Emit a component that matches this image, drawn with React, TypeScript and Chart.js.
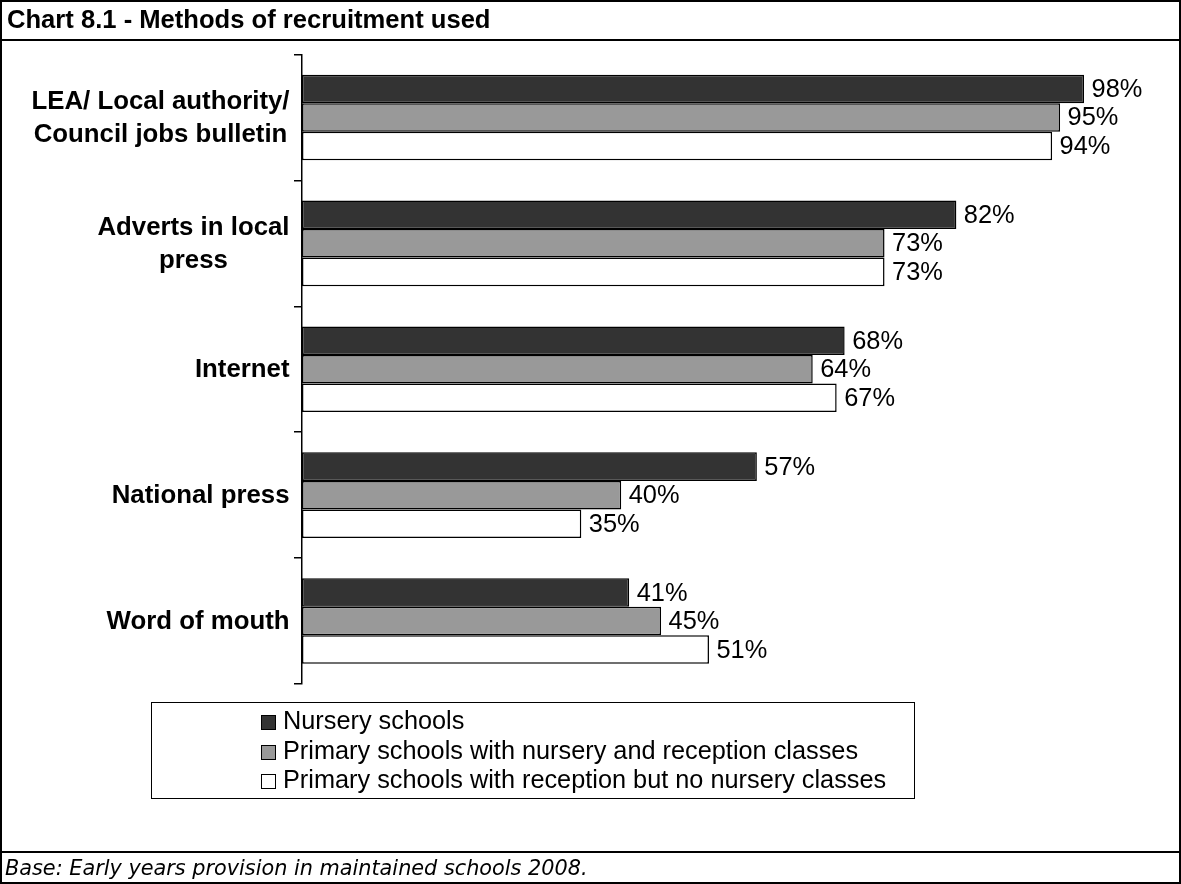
import React, { useEffect, useRef } from "react";
import { Chart, registerables } from "chart.js";

Chart.register(...registerables);

// ---- data ----
const categories: (string | string[])[] = [
  ["LEA/ Local authority/", "Council jobs bulletin"],
  ["Adverts in local", "press"],
  "Internet",
  "National press",
  "Word of mouth",
];
const seriesNames = [
  "Nursery schools",
  "Primary schools with nursery and reception classes",
  "Primary schools with reception but no nursery classes",
];
const nurserySchools = [98, 82, 68, 57, 41];
const primaryWithNursery = [95, 73, 64, 40, 45];
const primaryReceptionOnly = [94, 73, 67, 35, 51];
const seriesColors = ["#333333", "#999999", "#ffffff"];
const axisMin = 0;
const axisMax = 100;

const titleText = "Chart 8.1 - Methods of recruitment used";
const footerText = "Base: Early years provision in maintained schools 2008.";

const FONT = '"Liberation Sans", Arial, Helvetica, sans-serif';

const valueLabels = {
  id: "valueLabels",
  afterDatasetsDraw(chart: any) {
    const ctx = chart.ctx;
    ctx.save();
    ctx.font = `25.4px ${FONT}`;
    ctx.fillStyle = "#000";
    ctx.textAlign = "left";
    ctx.textBaseline = "middle";
    chart.data.datasets.forEach((ds: any, di: number) => {
      const meta = chart.getDatasetMeta(di);
      meta.data.forEach((el: any, i: number) => {
        ctx.fillText(`${ds.data[i]}%`, el.x + 7.5, el.y + 1);
      });
    });
    ctx.restore();
  },
};

const categoryLabels = {
  id: "categoryLabels",
  afterDraw(chart: any) {
    const scale = chart.scales.y;
    const ctx = chart.ctx;
    ctx.save();
    ctx.font = `bold 25.8px ${FONT}`;
    ctx.fillStyle = "#000";
    ctx.textAlign = "center";
    ctx.textBaseline = "middle";
    const right = scale.right - 12.5;
    const lh = 33.5;
    (chart.data.labels as any[]).forEach((c: any, i: number) => {
      const lines: string[] = Array.isArray(c) ? c : [c];
      const w = Math.max(...lines.map((l) => ctx.measureText(l).width));
      const cx = right - w / 2;
      const cy = scale.getPixelForTick(i);
      lines.forEach((l, k) =>
        ctx.fillText(l, cx, cy + (k - (lines.length - 1) / 2) * lh + 1)
      );
    });
    ctx.restore();
  },
};

export default function App() {
  const canvasRef = useRef<HTMLCanvasElement | null>(null);

  useEffect(() => {
    if (!canvasRef.current) return;
    const seriesData = [nurserySchools, primaryWithNursery, primaryReceptionOnly];
    const chart = new Chart(canvasRef.current, {
      type: "bar",
      data: {
        labels: categories as any,
        datasets: seriesData.map((d, i) => ({
          label: seriesNames[i],
          data: d,
          backgroundColor: seriesColors[i],
          borderColor: "#000",
          borderWidth: 1.5,
          borderSkipped: false,
          categoryPercentage: 0.68,
          barPercentage: 1.0,
        })),
      },
      options: {
        indexAxis: "y",
        responsive: false,
        animation: false,
        events: [],
        layout: { padding: { top: 54.5, bottom: 200, left: 0, right: 81 } },
        plugins: {
          legend: { display: false },
          title: { display: false },
          tooltip: { enabled: false },
        },
        scales: {
          x: { display: false, min: axisMin, max: axisMax },
          y: {
            type: "category",
            offset: true,
            ticks: { display: false },
            grid: {
              display: true,
              offset: true,
              drawOnChartArea: false,
              drawTicks: true,
              tickLength: 8,
              color: "#000",
              lineWidth: 1.5,
            },
            border: { display: true, color: "#000", width: 1.5 },
            afterFit: (scale: any) => {
              scale.width = 302;
            },
          },
        },
      },
      plugins: [valueLabels, categoryLabels],
    });
    return () => chart.destroy();
  }, []);

  const legendBaselines = [729.5, 759, 788.5];

  return (
    <div
      style={{
        position: "absolute",
        left: 0,
        top: 0,
        width: 1181,
        height: 884,
        background: "#fff",
        overflow: "hidden",
        fontFamily: FONT,
      }}
    >
      <canvas
        ref={canvasRef}
        width={1181}
        height={884}
        style={{ position: "absolute", left: 0, top: 0, width: 1181, height: 884 }}
      />
      {/* title */}
      <div
        style={{
          position: "absolute",
          left: 7,
          top: -1,
          height: 40,
          lineHeight: "40px",
          fontSize: 25.6,
          fontWeight: "bold",
          whiteSpace: "nowrap",
          color: "#000",
        }}
      >
        {titleText}
      </div>
      <div style={{ position: "absolute", left: 0, top: 39, width: 1181, height: 2, background: "#000" }} />
      {/* legend */}
      <div
        style={{
          position: "absolute",
          left: 151,
          top: 702,
          width: 764,
          height: 97,
          border: "1.5px solid #000",
          boxSizing: "border-box",
        }}
      />
      {seriesNames.map((name, i) => (
        <React.Fragment key={name}>
          <div
            style={{
              position: "absolute",
              left: 261,
              top: legendBaselines[i] - 14.5,
              width: 15,
              height: 15,
              boxSizing: "border-box",
              border: "1px solid #000",
              background: seriesColors[i],
            }}
          />
          <div
            style={{
              position: "absolute",
              left: 283,
              top: legendBaselines[i] - 23.5,
              fontSize: 25.3,
              lineHeight: "29.5px",
              whiteSpace: "nowrap",
              color: "#000",
            }}
          >
            {name}
          </div>
        </React.Fragment>
      ))}
      {/* footer */}
      <div style={{ position: "absolute", left: 0, top: 851, width: 1181, height: 2, background: "#000" }} />
      <div
        style={{
          position: "absolute",
          left: 5,
          top: 853,
          height: 31,
          lineHeight: "31px",
          fontSize: 20.8,
          fontStyle: "italic",
          fontFamily: '"DejaVu Sans", Verdana, sans-serif',
          whiteSpace: "nowrap",
          color: "#000",
        }}
      >
        {footerText}
      </div>
      {/* outer frame */}
      <div
        style={{
          position: "absolute",
          left: 0,
          top: 0,
          width: 1181,
          height: 884,
          border: "2px solid #000",
          boxSizing: "border-box",
          pointerEvents: "none",
        }}
      />
    </div>
  );
}
